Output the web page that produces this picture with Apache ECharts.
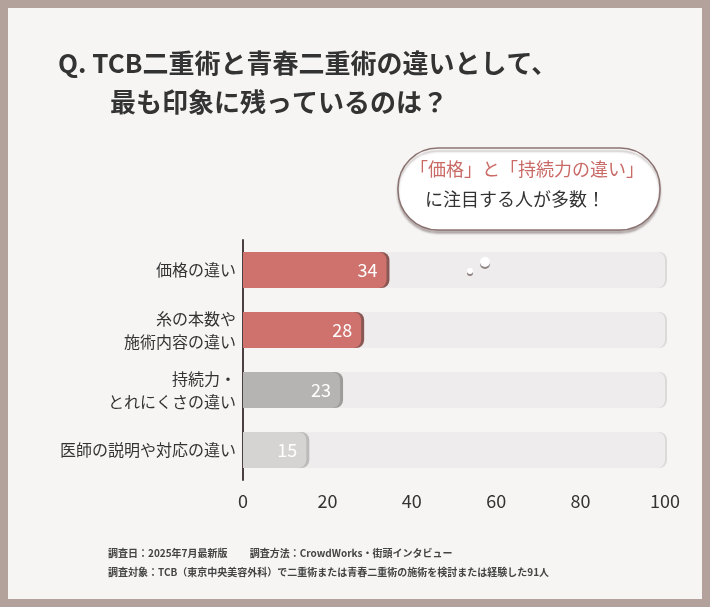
<!DOCTYPE html>
<html>
<head>
<meta charset="UTF-8">
<title>TCB二重術</title>
<style>
  html, body { margin: 0; padding: 0; background: #b3a19b; }
  #chart { width: 710px; height: 607px; }
</style>
<script src="https://cdn.jsdelivr.net/npm/echarts@6/dist/echarts.min.js"></script>
</head>
<body>
<div id="chart"></div>
<script>
var categories = ['価格の違い', '糸の本数や\n施術内容の違い', '持続力・\nとれにくさの違い', '医師の説明や対応の違い'];
var values = [34, 28, 23, 15];
var barColors = ['#cf716d', '#cf716d', '#b6b3b3', '#d6d3d3'];
var edgeColors = ['#8a5854', '#8a5854', '#9e9a9a', '#bdbaba'];
var xTicks = [0, 20, 40, 60, 80, 100];

var font = '"Noto Sans CJK JP", sans-serif';
var chart = echarts.init(document.getElementById('chart'));

chart.setOption({
  backgroundColor: '#b3a19b',
  animation: false,
  grid: { left: 243, right: 45, top: 240, bottom: 127 },
  xAxis: {
    type: 'value', min: 0, max: 100, interval: 20,
    axisLine: { show: false }, axisTick: { show: false }, splitLine: { show: false },
    axisLabel: { color: '#333', fontSize: 18, fontFamily: font, margin: 12,
      formatter: function (v) { return xTicks.indexOf(v) >= 0 ? String(v) : ''; } }
  },
  yAxis: {
    type: 'category', inverse: true, data: categories,
    axisLine: { show: true, lineStyle: { color: '#4a4040', width: 2 } },
    axisTick: { show: false },
    axisLabel: { color: '#333', fontSize: 16, fontFamily: font, lineHeight: 23, margin: 7 }
  },
  graphic: [
    { type: 'rect', z: -10, shape: { x: 8, y: 8, width: 694, height: 591 },
      style: { fill: '#f6f5f4' } },
    { type: 'text', left: 58, top: 50,
      style: { text: 'Q. TCB二重術と青春二重術の違いとして、', font: 'bold 26px ' + font, fill: '#333' } },
    { type: 'text', left: 110, top: 89,
      style: { text: '最も印象に残っているのは？', font: 'bold 26px ' + font, fill: '#333' } },
    { type: 'rect', z: 50, shape: { x: 398, y: 148, width: 262, height: 82, r: 40 },
      style: { fill: '#ffffff', stroke: '#8a7370', lineWidth: 1.5, shadowColor: 'rgba(80,60,60,0.35)', shadowBlur: 2, shadowOffsetY: 3 } },
    { type: 'circle', z: 50, shape: { cx: 485, cy: 262, r: 5 }, style: { fill: '#fff', shadowColor: 'rgba(80,60,60,0.6)', shadowOffsetY: 2 } },
    { type: 'circle', z: 50, shape: { cx: 470, cy: 271, r: 3 }, style: { fill: '#fff', shadowColor: 'rgba(80,60,60,0.6)', shadowOffsetY: 2 } },
    { type: 'text', z: 51, left: 410, top: 160,
      style: { text: '「価格」と「持続力の違い」', font: '18px ' + font, fill: '#c96a66' } },
    { type: 'text', z: 51, left: 425, top: 190,
      style: { text: 'に注目する人が多数！', font: '18px ' + font, fill: '#333' } },
    { type: 'text', left: 108, top: 548,
      style: { text: '調査日：2025年7月最新版　　 調査方法：CrowdWorks・街頭インタビュー', font: 'bold 10px ' + font, fill: '#444' } },
    { type: 'text', left: 108, top: 567,
      style: { text: '調査対象：TCB（東京中央美容外科）で二重術または青春二重術の施術を検討または経験した91人', font: 'bold 10px ' + font, fill: '#444' } }
  ],
  series: [{
    type: 'bar',
    data: values.map(function (v, i) {
      return { value: v, itemStyle: { color: barColors[i], shadowColor: edgeColors[i], shadowOffsetX: 3 } };
    }),
    barWidth: 36,
    itemStyle: { borderRadius: [0, 8, 8, 0] },
    showBackground: true,
    backgroundStyle: { color: '#eeecec', borderRadius: [0, 8, 8, 0], shadowColor: '#dcd9d9', shadowOffsetX: 2 },
    label: { show: true, position: 'insideRight', offset: [-4, 0], color: '#fff', fontSize: 18, fontFamily: font }
  }]
});
</script>
</body>
</html>
